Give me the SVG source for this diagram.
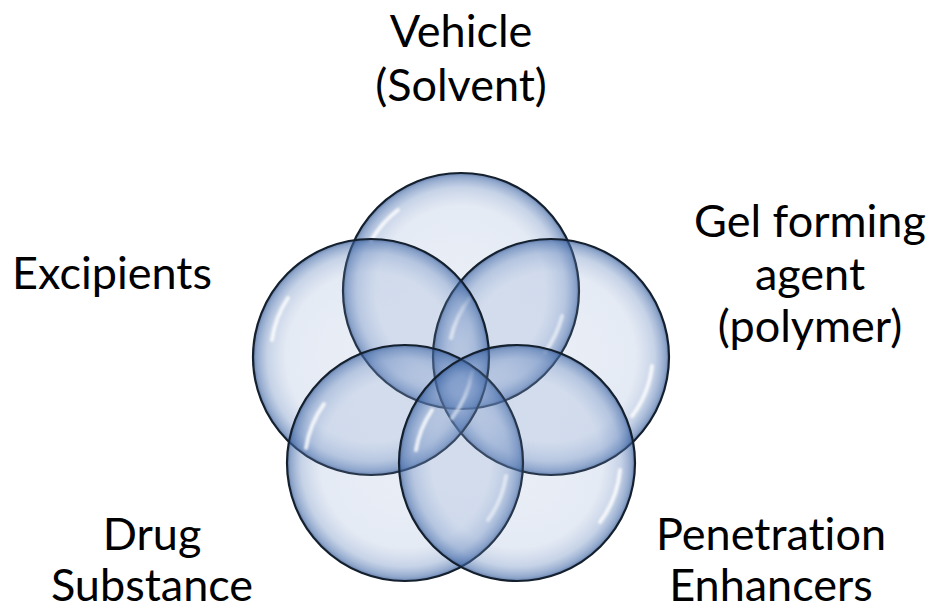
<svg xmlns="http://www.w3.org/2000/svg" width="932" height="613" viewBox="0 0 932 613">
  <style>
    .lbl { font-family: Lato, "Open Sans", sans-serif; font-size: 45px; fill: #000; text-anchor: middle; font-variant-ligatures: none; font-feature-settings: "liga" 0, "dlig" 0; }
    .bubble { fill: url(#bub); stroke: #14202e; stroke-width: 2.2; }
    .hl { fill: none; stroke: #ffffff; stroke-width: 4; stroke-linecap: round; opacity: 0.8; filter: url(#soft); }
  </style>
  <defs>
    <radialGradient id="bub" cx="50%" cy="50%" r="50%">
      <stop offset="0" stop-color="#7b98c9" stop-opacity="0.16"/>
      <stop offset="0.72" stop-color="#7b98c9" stop-opacity="0.2"/>
      <stop offset="0.88" stop-color="#5f82bb" stop-opacity="0.36"/>
      <stop offset="0.97" stop-color="#3f67a6" stop-opacity="0.58"/>
      <stop offset="1" stop-color="#2c4f8a" stop-opacity="0.72"/>
    </radialGradient>
    <filter id="soft" x="-20%" y="-20%" width="140%" height="140%">
      <feGaussianBlur stdDeviation="1.2"/>
    </filter>
  </defs>
  <rect width="932" height="613" fill="#ffffff"/>
  <g id="connectors"/>
  <g id="node-vehicle">
    <circle class="bubble" cx="461" cy="291" r="118"/>
    <path class="hl" d="M 371 241 A 103 103 0 0 1 398 210"/>
    <path class="hl" d="M 562 316 A 104 104 0 0 1 545 352"/>
    <text class="lbl" x="461" y="47">Vehicle</text>
    <text class="lbl" x="461" y="101">(Solvent)</text>
  </g>
  <g id="node-gel">
    <circle class="bubble" cx="551" cy="357" r="118"/>
    <path class="hl" d="M 451 338 A 102 102 0 0 1 470 298"/>
    <path class="hl" d="M 652 366 A 102 102 0 0 1 632 416"/>
    <text class="lbl" x="810" y="237">Gel forming</text>
    <text class="lbl" x="810" y="290">agent</text>
    <text class="lbl" x="810" y="342">(polymer)</text>
  </g>
  <g id="node-excipients">
    <circle class="bubble" cx="371" cy="357" r="118"/>
    <path class="hl" d="M 272 340 A 102 102 0 0 1 288 298"/>
    <path class="hl" d="M 472 372 A 102 102 0 0 1 452 418"/>
    <text class="lbl" x="112" y="289">Excipients</text>
  </g>
  <g id="node-drug">
    <circle class="bubble" cx="405" cy="463" r="118"/>
    <path class="hl" d="M 306 448 A 102 102 0 0 1 324 404"/>
    <path class="hl" d="M 506 476 A 102 102 0 0 1 488 520"/>
    <text class="lbl" x="152" y="550">Drug</text>
    <text class="lbl" x="152" y="601">Substance</text>
  </g>
  <g id="node-penetration">
    <circle class="bubble" cx="517" cy="463" r="118"/>
    <path class="hl" d="M 416 450 A 102 102 0 0 1 432 410"/>
    <path class="hl" d="M 620 470 A 104 104 0 0 1 600 522"/>
    <text class="lbl" x="771" y="550">Penetration</text>
    <text class="lbl" x="771" y="601">Enhancers</text>
  </g>
</svg>
